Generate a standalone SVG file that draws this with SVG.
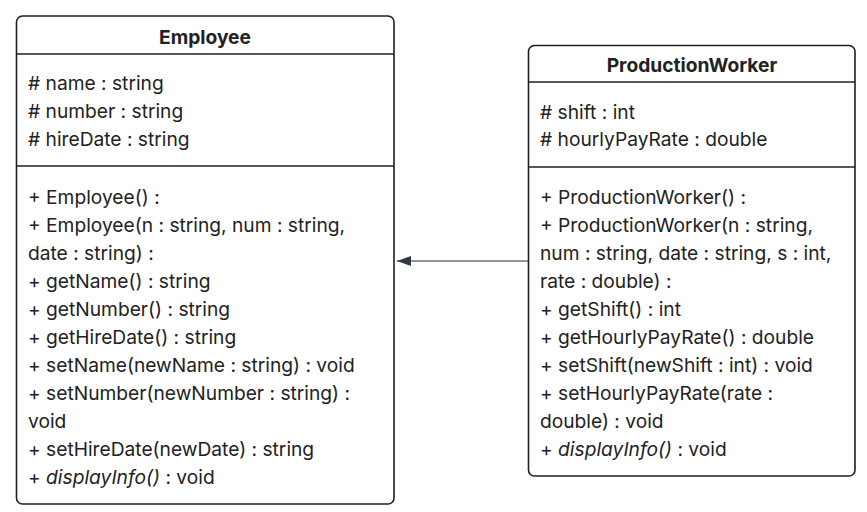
<svg xmlns="http://www.w3.org/2000/svg" width="867" height="512" viewBox="0 0 867 512">
<style>
.box{fill:#fff;stroke:#1f1f1f;stroke-width:1.6}
.sep{stroke:#1f1f1f;stroke-width:1.6}
.t{font-family:Inter,"Noto Sans",sans-serif;font-size:19.2px;fill:#222}
.h{font-family:Inter,"Noto Sans",sans-serif;font-size:19.2px;font-weight:700;fill:#222;text-anchor:middle}
.i{font-style:italic}
</style>
<defs>
<marker id="arr" viewBox="0 0 14 10" refX="14" refY="5" markerWidth="14" markerHeight="10" markerUnits="userSpaceOnUse" orient="auto">
<path d="M0,0 L14,5 L0,10 Z" fill="#2e3846"/>
</marker>
</defs>
<rect width="867" height="512" fill="#fff"/>
<g id="connectors">
<line x1="528" y1="261" x2="397" y2="261" stroke="#6b7380" stroke-width="1.5" marker-end="url(#arr)"/>
</g>
<g id="Employee">
<rect class="box" x="16.5" y="16" width="377.5" height="488" rx="6"/>
<line class="sep" x1="16.5" y1="54" x2="394" y2="54"/>
<line class="sep" x1="16.5" y1="166" x2="394" y2="166"/>
<text class="h" x="205" y="44">Employee</text>
<text class="t" x="28" y="90"># name : string</text>
<text class="t" x="28" y="118"># number : string</text>
<text class="t" x="28" y="146"># hireDate : string</text>
<text class="t" x="28" y="204">+ Employee() :</text>
<text class="t" x="28" y="232">+ Employee(n : string, num : string,</text>
<text class="t" x="28" y="260">date : string) :</text>
<text class="t" x="28" y="288">+ getName() : string</text>
<text class="t" x="28" y="316">+ getNumber() : string</text>
<text class="t" x="28" y="344">+ getHireDate() : string</text>
<text class="t" x="28" y="372">+ setName(newName : string) : void</text>
<text class="t" x="28" y="400">+ setNumber(newNumber : string) :</text>
<text class="t" x="28" y="428">void</text>
<text class="t" x="28" y="456">+ setHireDate(newDate) : string</text>
<text class="t" x="28" y="484">+ <tspan class="i">displayInfo()</tspan> : void</text>
</g>
<g id="ProductionWorker">
<rect class="box" x="528.5" y="45.5" width="326.5" height="430.5" rx="6"/>
<line class="sep" x1="528.5" y1="82" x2="855" y2="82"/>
<line class="sep" x1="528.5" y1="167" x2="855" y2="167"/>
<text class="h" x="692" y="72">ProductionWorker</text>
<text class="t" x="540" y="119"># shift : int</text>
<text class="t" x="540" y="146"># hourlyPayRate : double</text>
<text class="t" x="540" y="204">+ ProductionWorker() :</text>
<text class="t" x="540" y="232">+ ProductionWorker(n : string,</text>
<text class="t" x="540" y="260">num : string, date : string, s : int,</text>
<text class="t" x="540" y="288">rate : double) :</text>
<text class="t" x="540" y="316">+ getShift() : int</text>
<text class="t" x="540" y="344">+ getHourlyPayRate() : double</text>
<text class="t" x="540" y="372">+ setShift(newShift : int) : void</text>
<text class="t" x="540" y="400">+ setHourlyPayRate(rate :</text>
<text class="t" x="540" y="428">double) : void</text>
<text class="t" x="540" y="456">+ <tspan class="i">displayInfo()</tspan> : void</text>
</g>
</svg>
